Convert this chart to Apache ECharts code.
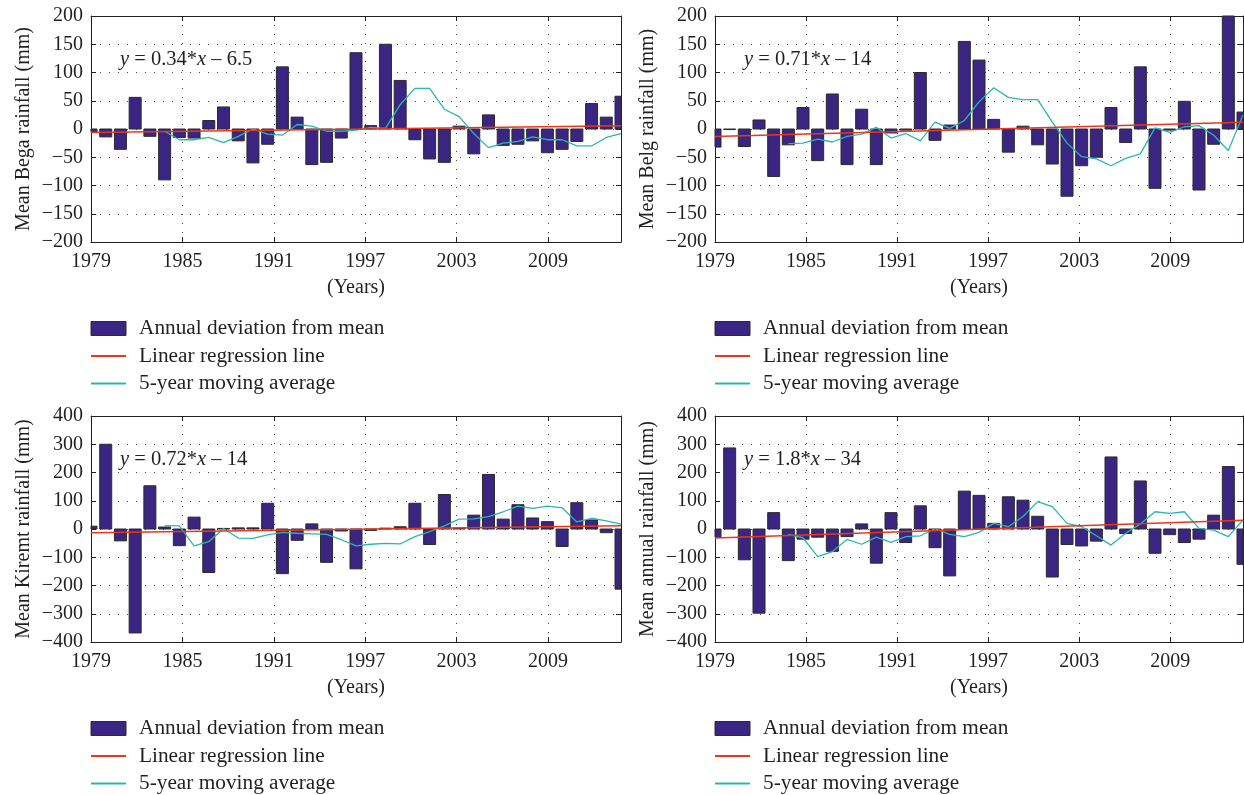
<!DOCTYPE html>
<html>
<head>
<meta charset="utf-8">
<title>Rainfall anomalies</title>
<script src="https://cdn.jsdelivr.net/npm/echarts@6.0.0/dist/echarts.min.js"></script>
<style>
  html, body { margin: 0; padding: 0; background: #fff; }
  #chart { width: 1244px; height: 795px; }
</style>
</head>
<body>
<div id="chart"></div>
<script>
// 37 bar slots per panel; first and last sit on the frame edges
const slotYears = ['1979', '1980', '1981', '1982', '1983', '1984', '1985', '1986', '1987', '1988',
  '1989', '1990', '1991', '1992', '1993', '1994', '1995', '1996', '1997', '1998', '1999', '2000',
  '2001', '2002', '2003', '2004', '2005', '2006', '2007', '2008', '2009', '2010', '2011', '2012',
  '2013', '2014', '2015']
const yearTicks = [1979, 1985, 1991, 1997, 2003, 2009]
const yearEnd = 2013.8

const seriesNames = ['Annual deviation from mean', 'Linear regression line', '5-year moving average']

// Bega
const begaDev = [-6, -14, -36, 56, -13, -90, -15, -16, 15, 39, -21, -60, -27, 110, 21, -63, -59, -16, 135,
  6, 150, 86, -19, -53, -59, 5, -44, 25, -29, -27, -21, -42, -36, -22, 45, 21, 58]
const begaAvg = [null, null, null, null, null, -4, -19, -19, -15, -24, -13, 0, -9, -11, 8, 5, -4, -4, -2,
  3, 1, 43, 72, 72, 35, 22, -8, -33, -25, -22, -14, -19, -19, -30, -30, -15, -8]
const begaFit = [-6.2, 5.7]

// Belg
const belgDev = [-32, -1, -31, 16, -84, -28, 38, -56, 62, -63, 35, -63, -7, -2, 100, -20, 7, 155, 122,
  17, -41, 5, -28, -62, -119, -65, -50, 38, -24, 110, -105, -2, 49, -108, -27, 210, 30]
const belgAvg = [null, null, null, null, null, -26, -25, -18, -23, -13, -9, 3, -16, -8, -21, 12, 1, 15, 48,
  73, 56, 52, 52, 12, -25, -49, -53, -65, -52, -44, 2, -6, 4, 6, -11, -38, 25]
const belgFit = [-13.3, 11.8]

// Kiremt
const kiremtDev = [10, 300, -42, -368, 153, 7, -59, 42, -154, 2, 4, 4, 91, -158, -40, 18, -118, -7, -141,
  -5, 3, 8, 91, -55, 122, 3, 49, 193, 35, 86, 39, 26, -62, 93, 32, -13, -213]
const kiremtAvg = [null, null, null, null, null, 12, 11, -60, -45, 2, -32, -33, -21, -12, -15, -17, -19, -38, -60,
  -54, -51, -53, -27, -9, 11, 35, 36, 44, 61, 81, 73, 81, 75, 25, 38, 29, 17]
const kiremtFit = [-13.3, 11.9]

// Annual
const annualDev = [-29, 287, -109, -298, 58, -112, -36, -29, -79, -27, 18, -121, 58, -48, 82, -66, -166, 134, 119,
  20, 114, 102, 45, -170, -55, -60, -43, 255, -16, 170, -86, -20, -48, -36, 49, 221, -125]
const annualAvg = [null, null, null, null, null, -19, -31, -98, -80, -37, -54, -29, -47, -27, -24, 1, -19, -27, -12,
  20, 8, 44, 97, 79, 20, 8, -24, -57, -15, 18, 61, 55, 61, 2, -4, -27, 32]
const annualFit = [-32, 31]

const font = '"Liberation Serif", "Times New Roman", serif'
const ink = '#231f20'
const barFill = '#3a2682'
const barEdge = '#2b2b2b'
const fitColor = '#e8381c'
const avgColor = '#2cb5b3'

const panels = [
  { label: 'Mean Bega rainfall (mm)', eq: '{i|y} = 0.34*{i|x} – 6.5', dev: begaDev, avg: begaAvg, fit: begaFit, lim: 200, step: 50, left: 91, top: 16, width: 530 },
  { label: 'Mean Belg rainfall (mm)', eq: '{i|y} = 0.71*{i|x} – 14', dev: belgDev, avg: belgAvg, fit: belgFit, lim: 200, step: 50, left: 715, top: 16, width: 528 },
  { label: 'Mean Kiremt rainfall (mm)', eq: '{i|y} = 0.72*{i|x} – 14', dev: kiremtDev, avg: kiremtAvg, fit: kiremtFit, lim: 400, step: 100, left: 91, top: 416, width: 530 },
  { label: 'Mean annual rainfall (mm)', eq: '{i|y} = 1.8*{i|x} – 34', dev: annualDev, avg: annualAvg, fit: annualFit, lim: 400, step: 100, left: 715, top: 416, width: 528 },
]

const txt = { fontFamily: font, fontSize: 20, color: ink }
const dots = { color: '#4a4a4a', width: 1, type: [1, 8] }
const frameLine = { onZero: false, lineStyle: { color: ink, width: 1 } }
const innerTick = { inside: true, length: 5, lineStyle: { color: ink, width: 1 } }

// bars drawn as rects clipped to the frame, so the edge bars are cut in half
function renderBar(params, api) {
  const slot = api.value(0)
  const base = api.coord([slot, 0])
  const tip = api.coord([slot, api.value(1)])
  const half = 6
  const cs = params.coordSys
  const shape = echarts.graphic.clipRectByRect(
    { x: base[0] - half, y: Math.min(base[1], tip[1]), width: half * 2, height: Math.abs(tip[1] - base[1]) },
    { x: cs.x, y: cs.y, width: cs.width, height: cs.height }
  )
  return shape && { type: 'rect', shape, style: api.style() }
}

const option = {
  animation: false,
  backgroundColor: '#ffffff',
  title: [], grid: [], xAxis: [], yAxis: [], legend: [], series: [],
}

panels.forEach((p, k) => {
  option.grid.push({
    left: p.left, top: p.top, width: p.width, height: 226,
    containLabel: false, outerBoundsMode: 'none',
  })

  const xi = option.xAxis.length
  const yearAxis = {
    type: 'value', gridIndex: k,
    min: yearTicks[0], max: yearEnd, interval: yearTicks[1] - yearTicks[0],
    axisLine: frameLine, axisTick: innerTick,
  }
  option.xAxis.push(
    {
      ...yearAxis, position: 'bottom',
      name: '(Years)', nameLocation: 'middle', nameGap: 36, nameTextStyle: txt,
      axisLabel: { ...txt, margin: 10, showMaxLabel: false, formatter: v => String(v) },
      splitLine: { show: true, lineStyle: dots },
    },
    { ...yearAxis, position: 'top', axisLabel: { show: false }, splitLine: { show: false } },
    { type: 'category', gridIndex: k, position: 'bottom', data: slotYears, boundaryGap: false, show: false }
  )

  const yi = option.yAxis.length
  const valAxis = {
    type: 'value', gridIndex: k, min: -p.lim, max: p.lim, interval: p.step,
    axisLine: frameLine, axisTick: innerTick,
  }
  option.yAxis.push(
    {
      ...valAxis, position: 'left',
      name: p.label, nameLocation: 'middle', nameGap: 57, nameTextStyle: txt,
      axisLabel: { ...txt, margin: 8, formatter: v => (v < 0 ? '\u2212' + Math.abs(v) : String(v)) },
      splitLine: { show: true, lineStyle: dots },
    },
    { ...valAxis, position: 'right', axisLabel: { show: false }, splitLine: { show: false } }
  )

  option.series.push(
    {
      name: seriesNames[0], type: 'custom', xAxisIndex: xi + 2, yAxisIndex: yi,
      data: p.dev.map((v, i) => [i, v]), encode: { x: 0, y: 1 },
      renderItem: renderBar, clip: false,
      itemStyle: { color: barFill, borderColor: barEdge, borderWidth: 1 },
    },
    {
      name: seriesNames[2], type: 'line', xAxisIndex: xi + 2, yAxisIndex: yi,
      data: p.avg, symbol: 'none', showSymbol: false,
      itemStyle: { color: avgColor }, lineStyle: { color: avgColor, width: 1.3 },
    },
    {
      name: seriesNames[1], type: 'line', xAxisIndex: xi + 2, yAxisIndex: yi,
      data: [[slotYears[0], p.fit[0]], [slotYears[slotYears.length - 1], p.fit[1]]],
      symbol: 'none', showSymbol: false,
      itemStyle: { color: fitColor }, lineStyle: { color: fitColor, width: 1.5 },
    }
  )

  option.title.push({
    text: p.eq, left: p.left + 29, top: p.top + 33, padding: 0,
    textStyle: {
      ...txt, fontSize: 20.5, fontWeight: 'normal',
      rich: { i: { ...txt, fontSize: 20.5, fontStyle: 'italic' } },
    },
  })

  option.legend.push({
    data: [
      { name: seriesNames[0], icon: 'rect', itemStyle: { color: barFill, borderColor: barEdge, borderWidth: 1 } },
      { name: seriesNames[1], itemStyle: { opacity: 0 } },
      { name: seriesNames[2], itemStyle: { opacity: 0 } },
    ],
    orient: 'vertical', selectedMode: false,
    left: p.left - 1, top: p.top + 302, padding: 0,
    itemWidth: 35, itemHeight: 14, itemGap: 6.5,
    textStyle: { ...txt, fontSize: 21.3, lineHeight: 20, padding: [0, 0, 0, 8] },
  })
})

const chart = echarts.init(document.getElementById('chart'), null, { renderer: 'canvas' })
chart.setOption(option)
</script>
</body>
</html>
